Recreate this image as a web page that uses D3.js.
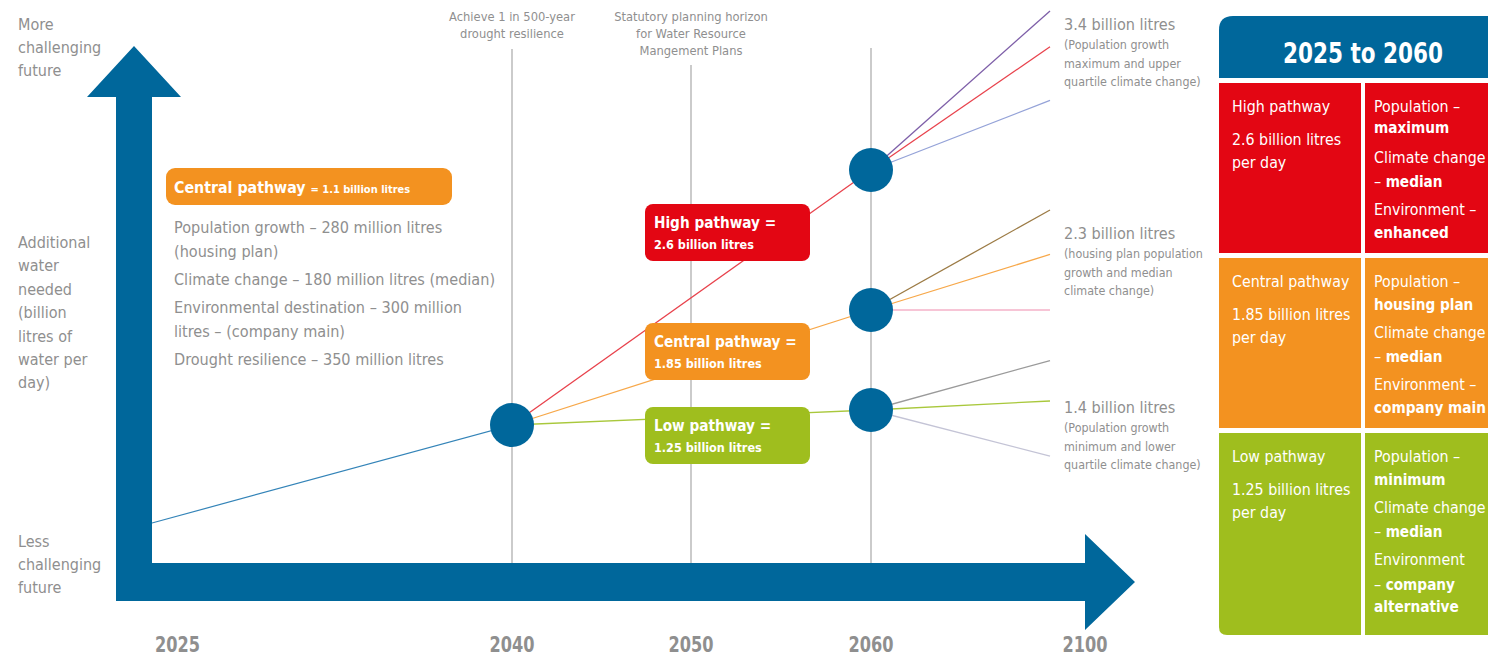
<!DOCTYPE html>
<html>
<head>
<meta charset="utf-8">
<script src="https://cdn.jsdelivr.net/npm/d3@7"></script>
<style>
  body { margin: 0; background: #fff; }
  svg text { font-family: "Liberation Sans Narrow", "DejaVu Sans Condensed", sans-serif; }
</style>
</head>
<body>
<script>
// Years along the timeline
var years = [2025, 2040, 2050, 2060, 2100];
var markerYears = [2040, 2050, 2060];

// Additional water needed (billion litres per day)
var trunk = [{year: 2025, value: 0}, {year: 2040, value: 1.1}];
var pathwayNames = ["High", "Central", "Low"];
var pathway2060 = [2.6, 1.85, 1.25];
// 2100 branches out of each 2060 node
var branches2100 = [[3.4, 3.22, 2.95], [2.3, 2.1, 1.85], [1.6, 1.4, 0.75]];

// Text blocks
var endLabels = [
    {value: "3.4 billion litres", note: ["(Population growth", "maximum and upper", "quartile climate change)"]},
    {value: "2.3 billion litres", note: ["(housing plan population", "growth and median", "climate change)"]},
    {value: "1.4 billion litres", note: ["(Population growth", "minimum and lower", "quartile climate change)"]}
];
var centralItems = ["Population growth \u2013 280 million litres", "(housing plan)",
    "Climate change \u2013 180 million litres (median)", "Environmental destination \u2013 300 million",
    "litres \u2013 (company main)", "Drought resilience \u2013 350 million litres"];
var tableRows = [
    {name: "High pathway", amount: ["2.6 billion litres", "per day"],
     detail: [["Population \u2013", ""], ["", "maximum"], ["Climate change", ""], ["\u2013 ", "median"], ["Environment \u2013", ""], ["", "enhanced"]]},
    {name: "Central pathway", amount: ["1.85 billion litres", "per day"],
     detail: [["Population \u2013", ""], ["", "housing plan"], ["Climate change", ""], ["\u2013 ", "median"], ["Environment \u2013", ""], ["", "company main"]]},
    {name: "Low pathway", amount: ["1.25 billion litres", "per day"],
     detail: [["Population \u2013", ""], ["", "minimum"], ["Climate change", ""], ["\u2013 ", "median"], ["Environment", ""], ["\u2013 ", "company"], ["", "alternative"]]}
];

var width = 1488, height = 656;
var blue = "#00679b", grey = "#8f8f8f";
var pathColors = ["#e30613", "#f39220", "#9fbe1e"];
var lineColors = ["#e8424c", "#f7a84a", "#a9c83c"];
var branchColors = [["#7e5fa8", "#e8424c", "#95a3d8"], ["#9c7b45", "#f7a84a", "#f4b2c8"], ["#9a9a9a", "#a9c83c", "#c4c4d6"]];

var x = d3.scaleLinear()
    .domain(years)
    .range([152, 512, 691, 871, 1050]);

// schematic, piecewise vertical scale
var y = d3.scaleLinear()
    .domain([0, 1.1, 1.25, 1.4, 1.85, 2.3, 2.6, 3.4])
    .range([523, 425, 410, 401, 310, 210, 170, 11]);

var svg = d3.select("body").append("svg")
    .attr("width", width)
    .attr("height", height);

// Vertical marker lines
svg.selectAll(".marker")
    .data(markerYears)
    .enter()
    .append("line")
    .attr("x1", d => x(d)).attr("x2", d => x(d))
    .attr("y1", (d, i) => [49, 65, 48][i]).attr("y2", 563)
    .attr("stroke", "#a8a8a8")
    .attr("stroke-width", 1.2);

var notes = [["Achieve 1 in 500-year", "drought resilience"],
             ["Statutory planning horizon", "for Water Resource", "Mangement Plans"]];
notes.forEach(function(lines, i) {
    svg.append("text")
        .attr("x", x(markerYears[i]))
        .attr("y", 21)
        .attr("text-anchor", "middle")
        .attr("fill", grey)
        .attr("font-size", 12.8)
        .selectAll("tspan")
        .data(lines)
        .enter()
        .append("tspan")
        .attr("x", x(markerYears[i]))
        .attr("dy", (d, j) => j == 0 ? 0 : 17)
        .text(d => d);
});

var line = d3.line().x(d => x(d.year)).y(d => y(d.value));

// 2025 -> 2040
svg.append("path")
    .datum(trunk)
    .attr("fill", "none")
    .attr("stroke", "#3484b8")
    .attr("stroke-width", 1.2)
    .attr("d", line);

// 2060 -> 2100 branches
branches2100.forEach(function(vals, i) {
    vals.forEach(function(v, j) {
        svg.append("path")
            .datum([{year: 2060, value: pathway2060[i]}, {year: 2100, value: v}])
            .attr("fill", "none")
            .attr("stroke", branchColors[i][j])
            .attr("stroke-width", 1.3)
            .attr("d", line);
    });
});

// 2040 -> 2060 pathways
pathway2060.forEach(function(v, i) {
    svg.append("path")
        .datum([trunk[1], {year: 2060, value: v}])
        .attr("fill", "none")
        .attr("stroke", lineColors[i])
        .attr("stroke-width", 1.3)
        .attr("d", line);
});

// Nodes
var nodes = [trunk[1]].concat(pathway2060.map(v => ({year: 2060, value: v})));
svg.selectAll(".node")
    .data(nodes)
    .enter()
    .append("circle")
    .attr("cx", d => x(d.year))
    .attr("cy", d => y(d.value))
    .attr("r", 22)
    .attr("fill", blue);

// Axis arrows
svg.append("path")
    .attr("fill", blue)
    .attr("d", "M116,601 L116,97 L87,97 L134,46 L181,97 L152,97 L152,563 L1085,563 L1085,534 L1135,582 L1085,630 L1085,601 Z");

// Year labels
svg.selectAll(".year")
    .data(years)
    .enter()
    .append("text")
    .attr("x", (d, i) => i == 0 ? x(d) + 3 : (i == years.length - 1 ? x(d) + 35 : x(d)))
    .attr("y", 652)
    .attr("text-anchor", (d, i) => i == 0 ? "start" : "middle")
    .attr("fill", grey)
    .attr("font-size", 21)
    .attr("font-weight", "bold")
    .attr("textLength", 45)
    .attr("lengthAdjust", "spacingAndGlyphs")
    .text(d => d);

// Left side captions
function multiline(lines, x0, y0, lh, size, color) {
    var t = svg.append("text")
        .attr("x", x0).attr("y", y0)
        .attr("fill", color)
        .attr("font-size", size);
    t.selectAll("tspan")
        .data(lines)
        .enter()
        .append("tspan")
        .attr("x", x0)
        .attr("dy", (d, j) => j == 0 ? 0 : lh)
        .text(d => d);
    return t;
}
multiline(["More", "challenging", "future"], 18, 30, 23, 16, grey);
multiline(["Additional", "water", "needed", "(billion", "litres of", "water per", "day)"], 18, 248, 23.4, 16, grey);
multiline(["Less", "challenging", "future"], 18, 547, 23, 16, grey);

// Central pathway summary
svg.append("rect")
    .attr("x", 166).attr("y", 168)
    .attr("width", 286).attr("height", 37)
    .attr("rx", 9)
    .attr("fill", pathColors[1]);
var ct = svg.append("text")
    .attr("x", 174).attr("y", 193)
    .attr("fill", "#fff")
    .attr("font-weight", "bold");
ct.append("tspan").attr("font-size", 15.8).text("Central pathway ");
ct.append("tspan").attr("font-size", 11).text("= 1.1 billion litres");
svg.append("text")
    .attr("fill", grey)
    .attr("font-size", 16.1)
    .selectAll("tspan")
    .data(centralItems)
    .enter()
    .append("tspan")
    .attr("x", 174)
    .attr("y", (d, i) => [233, 257, 285, 313, 337, 365][i])
    .text(d => d);

// Pathway boxes
var boxTops = [204, 323, 407];
var boxValues = ["2.6 billion litres", "1.85 billion litres", "1.25 billion litres"];
pathwayNames.forEach(function(name, i) {
    svg.append("rect")
        .attr("x", 645).attr("y", boxTops[i])
        .attr("width", 165).attr("height", 57)
        .attr("rx", 8)
        .attr("fill", pathColors[i]);
    var t = svg.append("text")
        .attr("fill", "#fff")
        .attr("font-weight", "bold");
    t.append("tspan").attr("x", 654).attr("y", boxTops[i] + 24)
        .attr("font-size", 15.2).text(name + " pathway =");
    t.append("tspan").attr("x", 654).attr("y", boxTops[i] + 45)
        .attr("font-size", 12.5).text(boxValues[i]);
});

// Labels at the 2100 end
var labelTops = [30, 239, 413];
endLabels.forEach(function(d, i) {
    svg.append("text")
        .attr("x", 1064).attr("y", labelTops[i])
        .attr("fill", grey).attr("font-size", 16.1)
        .text(d.value);
    multiline(d.note, 1064, labelTops[i] + 19, 18.5, 12.4, grey);
});

// Summary table
var tx = 1219, split = 1361, col2 = 1365, right = 1500;
svg.append("path")
    .attr("fill", blue)
    .attr("d", "M" + tx + ",78 L" + tx + ",30 Q" + tx + ",16 " + (tx + 14) + ",16 L" + right + ",16 L" + right + ",78 Z");
svg.append("text")
    .attr("x", 1363).attr("y", 63)
    .attr("text-anchor", "middle")
    .attr("fill", "#fff")
    .attr("font-size", 29)
    .attr("font-weight", "bold")
    .attr("textLength", 160)
    .attr("lengthAdjust", "spacingAndGlyphs")
    .text("2025 to 2060");

var rowTops = [83, 258, 433], rowBottoms = [253, 428, 635];
var detailLines = [[112, 133, 163, 187, 215, 238], [287, 310, 338, 362, 390, 413], [462, 485, 513, 537, 565, 590, 612]];
tableRows.forEach(function(row, i) {
    var top = rowTops[i], h = rowBottoms[i] - rowTops[i];
    if (i == tableRows.length - 1) {
        svg.append("path")
            .attr("fill", pathColors[i])
            .attr("d", "M" + tx + "," + top + " L" + split + "," + top + " L" + split + "," + (top + h) +
                " L" + (tx + 8) + "," + (top + h) + " Q" + tx + "," + (top + h) + " " + tx + "," + (top + h - 8) + " Z");
    } else {
        svg.append("rect").attr("x", tx).attr("y", top).attr("width", split - tx).attr("height", h).attr("fill", pathColors[i]);
    }
    svg.append("rect").attr("x", col2).attr("y", top).attr("width", right - col2).attr("height", h).attr("fill", pathColors[i]);

    var lineY = detailLines[i];
    svg.append("text").attr("x", 1232).attr("y", lineY[0])
        .attr("fill", "#fff").attr("font-size", 15.8).text(row.name);
    row.amount.forEach(function(a, j) {
        svg.append("text").attr("x", 1232).attr("y", lineY[0] + 33 + j * 23)
            .attr("fill", "#fff").attr("font-size", 15.8).text(a);
    });
    row.detail.forEach(function(parts, j) {
        var t = svg.append("text").attr("x", 1374).attr("y", lineY[j])
            .attr("fill", "#fff").attr("font-size", 15.8);
        if (parts[0]) t.append("tspan").text(parts[0]);
        if (parts[1]) t.append("tspan").attr("font-weight", "bold").attr("font-size", 15.2).text(parts[1]);
    });
});
</script>
</body>
</html>
